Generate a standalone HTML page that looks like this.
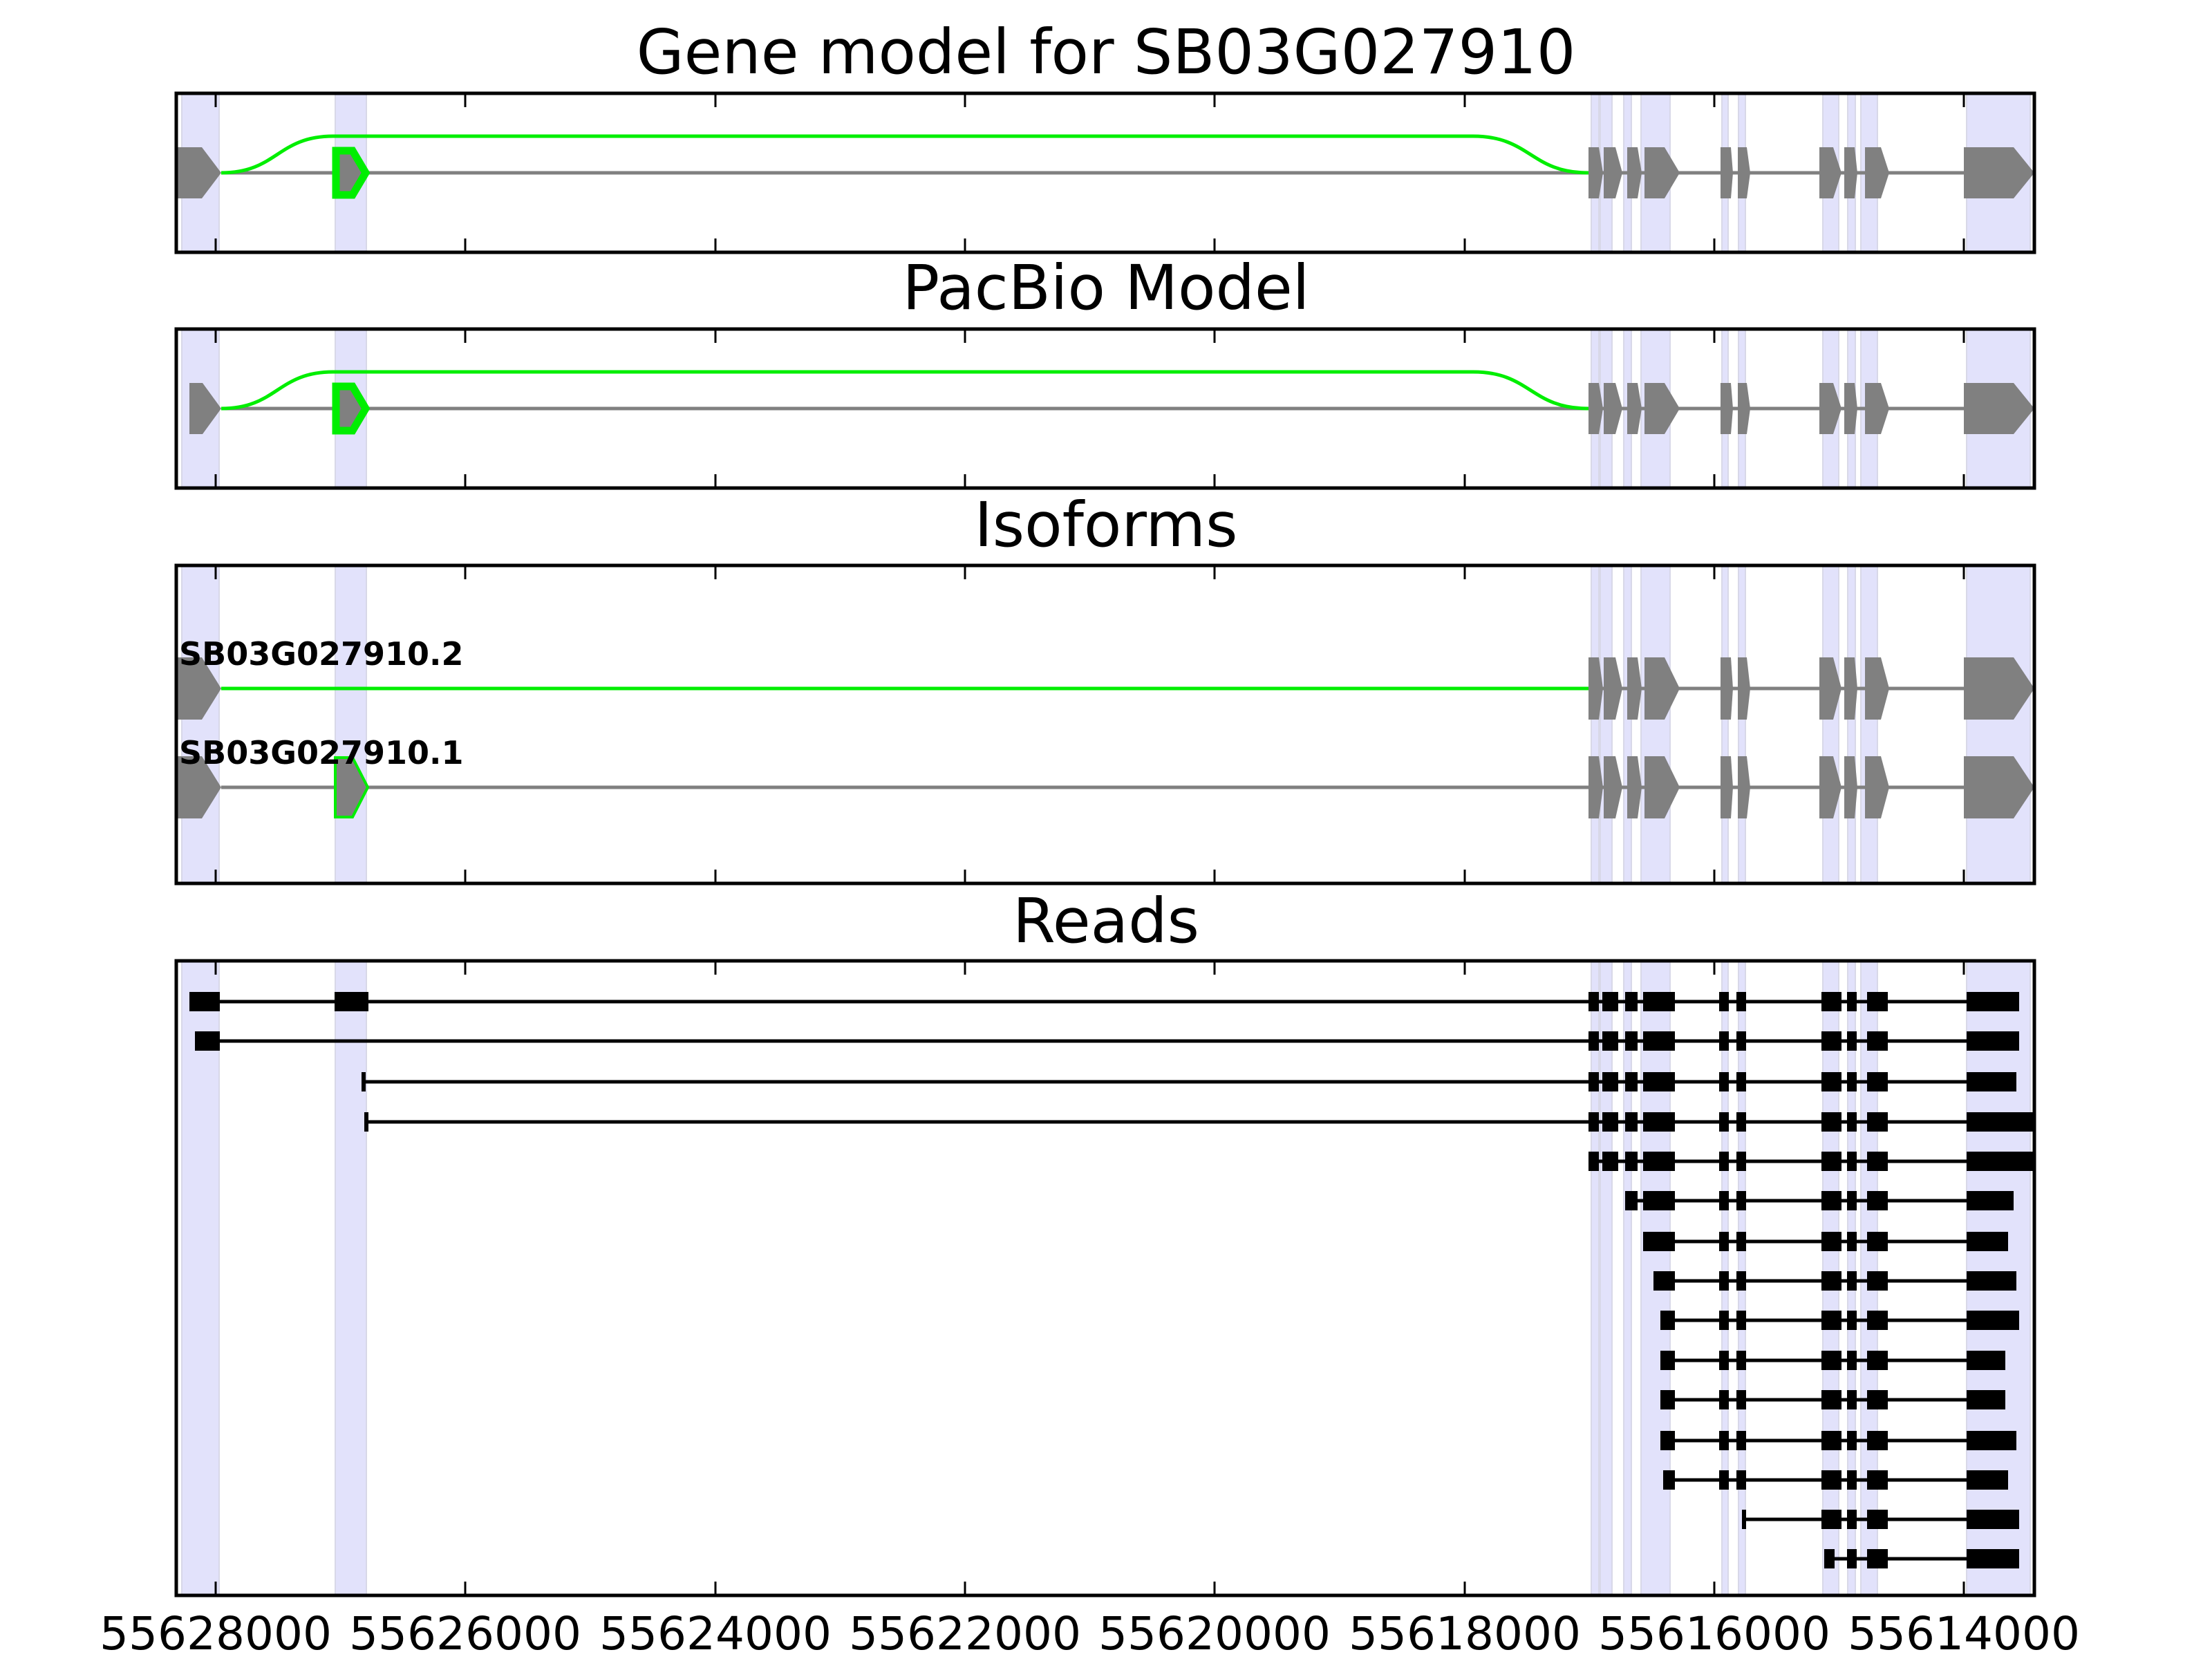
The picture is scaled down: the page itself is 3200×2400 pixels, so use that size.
<!DOCTYPE html>
<html><head><meta charset="utf-8"><style>
html,body{margin:0;padding:0;background:#fff;}
svg{display:block;}
text{font-family:"DejaVu Sans","Liberation Sans",sans-serif;}
</style></head><body>
<svg id="s" xmlns="http://www.w3.org/2000/svg" width="3200" height="2400" viewBox="0 0 3200 2400">
<g id="bg"></g>
<g id="fg"></g>
<text x="1600" y="106" font-size="89" text-anchor="middle">Gene model for SB03G027910</text>
<text x="1600" y="447" font-size="89" text-anchor="middle">PacBio Model</text>
<text x="1600" y="790" font-size="89" text-anchor="middle">Isoforms</text>
<text x="1600" y="1363" font-size="89" text-anchor="middle">Reads</text>
<text x="259" y="962" font-size="46" font-weight="bold">SB03G027910.2</text>
<text x="259" y="1105" font-size="46" font-weight="bold">SB03G027910.1</text>
<g font-size="66" text-anchor="middle">
<text x="312" y="2386">55628000</text>
<text x="673" y="2386">55626000</text>
<text x="1035" y="2386">55624000</text>
<text x="1396" y="2386">55622000</text>
<text x="1757" y="2386">55620000</text>
<text x="2119" y="2386">55618000</text>
<text x="2480" y="2386">55616000</text>
<text x="2841" y="2386">55614000</text>
</g>
</svg>
<script>
var NS="http://www.w3.org/2000/svg";
var bg=document.getElementById('bg'),fg=document.getElementById('fg');
function el(p,t,a){var e=document.createElementNS(NS,t);for(var k in a)e.setAttribute(k,a[k]);p.appendChild(e);return e;}
var D=-4;
function sh(x){return x>2000?x+D:x;}
var L=255,R=2943;
var panels=[[135,365],[476,706],[818,1278],[1390,2308]];
var bands=[[263,317],[485,530],[2306,2317],[2319,2336],[2353,2364],[2378,2420],[2495,2504],[2519,2529],[2641,2664],[2677,2688],[2696,2720],[2849,2943]];
var ticks=[312,673,1035,1396,1757,2119,2480,2841];
panels.forEach(function(p){
  bands.forEach(function(b){var a=sh(b[0]),c=Math.min(sh(b[1]),R-6);el(bg,'rect',{x:a,y:p[0],width:c-a,height:p[1]-p[0],fill:'#e2e2fb',stroke:'#d8d8e8','stroke-width':2});});
});
var ex=[[2302,2317,2323],[2324,2341,2351],[2358,2373,2379],[2383,2412,2434],[2493,2508,2511],[2518,2531,2536],[2636,2656,2668],[2672,2687,2691],[2702,2725,2737],[2845,2917,2947]];
function pent(l,b,t,c,h,fill,stroke,sw){
  l=sh(l);b=sh(b);t=sh(t);
  var pts=[l+','+(c-h),b+','+(c-h),t+','+c,b+','+(c+h),l+','+(c+h)].join(' ');
  var a={points:pts,fill:fill};
  if(stroke){a.stroke=stroke;a['stroke-width']=sw;a['stroke-linejoin']='miter';}
  el(fg,'polygon',a);
}
var G='#808080',GR='#00ee00';
var X0=sh(2302),XE=sh(2845);
[[250,255,292,320],[591,274,293,320]].forEach(function(q){
  var c=q[0];
  el(fg,'line',{x1:320,y1:c,x2:XE,y2:c,stroke:G,'stroke-width':5});
  var t=c-53;
  el(fg,'path',{d:'M320,'+c+' C401,'+c+' 401,'+t+' 482,'+t+' L2131,'+t+' C2214,'+t+' 2214,'+c+' '+X0+','+c,fill:'none',stroke:GR,'stroke-width':5});
  pent(q[1],q[2],q[3],c,37,G);
  pent(486,510,529,c,32,G,GR,11);
  ex.forEach(function(e){pent(e[0],e[1],e[2],c,37,G);});
});
[[996,true],[1139,false]].forEach(function(q){
  var c=q[0];
  if(q[1]){
    el(fg,'line',{x1:320,y1:c,x2:X0,y2:c,stroke:GR,'stroke-width':5});
    el(fg,'line',{x1:X0,y1:c,x2:XE,y2:c,stroke:G,'stroke-width':5});
  } else {
    el(fg,'line',{x1:320,y1:c,x2:XE,y2:c,stroke:G,'stroke-width':5});
    pent(485,510,532,c,43,G,GR,4);
  }
  pent(257,292,320,c,45,G);
  ex.forEach(function(e){pent(e[0],e[1],e[2],c,45,G);});
});
var blk=[[2302,2317],[2322,2345],[2355,2373],[2381,2427],[2491,2505],[2516,2530],[2639,2668],[2676,2690],[2705,2735]];
var ys=[1449,1506,1565,1623,1680,1737,1796,1853,1910,1968,2025,2084,2141,2198,2255];
var rows=[
 {pre:[[274,318],[484,533]],s:0,e:2925},
 {pre:[[282,318]],s:0,e:2925},
 {pre:[[523,529]],s:0,e:2921},
 {pre:[[527,533]],s:0,e:2945},
 {pre:[],s:0,e:2945},
 {pre:[],s:2,e:2917},
 {pre:[],s:3,e:2909},
 {pre:[],s:3,e:2921,first:2396},
 {pre:[],s:3,e:2925,first:2406},
 {pre:[],s:3,e:2905,first:2406},
 {pre:[],s:3,e:2905,first:2406},
 {pre:[],s:3,e:2921,first:2406},
 {pre:[],s:3,e:2909,first:2410},
 {pre:[[2524,2530]],s:6,e:2925},
 {pre:[],s:6,e:2925,first:2643,f2:2658}
];
rows.forEach(function(r,i){
  var y=ys[i],h=14;
  var bl=[];
  r.pre.forEach(function(p){bl.push(p.slice());});
  for(var k=r.s;k<blk.length;k++){bl.push(blk[k].slice());}
  if(r.first){var idx=r.pre.length;bl[idx][0]=r.first;if(r.f2)bl[idx][1]=r.f2;}
  bl.push([2849,r.e]);
  bl=bl.map(function(b){return [sh(b[0]),sh(b[1])];});
  el(fg,'line',{x1:bl[0][0],y1:y,x2:bl[bl.length-1][1],y2:y,stroke:'#000','stroke-width':5});
  bl.forEach(function(b){el(fg,'rect',{x:b[0],y:y-h,width:b[1]-b[0],height:2*h,fill:'#000'});});
});
panels.forEach(function(p){
  el(fg,'rect',{x:L,y:p[0],width:R-L,height:p[1]-p[0],fill:'none',stroke:'#000','stroke-width':5});
  ticks.forEach(function(t){
    el(fg,'line',{x1:t,y1:p[0],x2:t,y2:p[0]+20,stroke:'#000','stroke-width':3});
    el(fg,'line',{x1:t,y1:p[1],x2:t,y2:p[1]-20,stroke:'#000','stroke-width':3});
  });
});
</script>
</body></html>
